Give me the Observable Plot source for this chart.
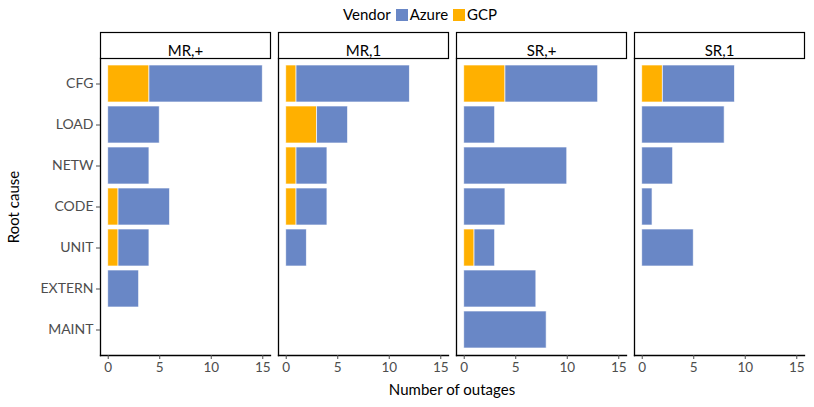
<!DOCTYPE html>
<html>
<head>
<meta charset="utf-8">
<script src="https://cdn.jsdelivr.net/npm/d3@7"></script>
<script src="https://cdn.jsdelivr.net/npm/@observablehq/plot@0.6"></script>
<style>
  html, body { margin: 0; padding: 0; background: #fff; }
  #wrap { position: relative; width: 814px; height: 407px; font-family: Lato, "DejaVu Sans", sans-serif; }
  #legend { position: absolute; left: 343px; top: 5px; font-size: 15px; color: #000; white-space: nowrap; }
  #legend span.sw { display: inline-block; width: 12px; height: 12px; vertical-align: -1px; margin: 0 2px 0 5px; }
  #chart { position: absolute; left: 0; top: 28px; }
  #xtitle { position: absolute; left: 99px; width: 706px; top: 380px; text-align: center; font-size: 15px; }
  #ytitle { position: absolute; left: 13px; top: 207px; transform: translate(-50%, -50%) rotate(-90deg); font-size: 15px; white-space: nowrap; }
</style>
</head>
<body>
<div id="wrap">
  <div id="legend"></div>
  <div id="chart"></div>
  <div id="xtitle">Number of outages</div>
  <div id="ytitle">Root cause</div>
</div>
<script>
const categories = ["CFG", "LOAD", "NETW", "CODE", "UNIT", "EXTERN", "MAINT"];
const panels = ["MR,+", "MR,1", "SR,+", "SR,1"];
const vendors = ["Azure", "GCP"];
const vendorColors = ["#6987c6", "#ffb000"];
const xTicks = [0, 5, 10, 15];

// values per category (order as in categories)
const azureMRplus = [11, 5, 4, 5, 3, 3, 0];
const gcpMRplus   = [4, 0, 0, 1, 1, 0, 0];
const azureMR1    = [11, 3, 3, 3, 2, 0, 0];
const gcpMR1      = [1, 3, 1, 1, 0, 0, 0];
const azureSRplus = [9, 3, 10, 4, 2, 7, 8];
const gcpSRplus   = [4, 0, 0, 0, 1, 0, 0];
const azureSR1    = [7, 8, 3, 1, 5, 0, 0];
const gcpSR1      = [2, 0, 0, 0, 0, 0, 0];

const seriesByPanel = {
  "MR,+": {Azure: azureMRplus, GCP: gcpMRplus},
  "MR,1": {Azure: azureMR1, GCP: gcpMR1},
  "SR,+": {Azure: azureSRplus, GCP: gcpSRplus},
  "SR,1": {Azure: azureSR1, GCP: gcpSR1}
};

const rows = [];
for (const p of panels) {
  for (const v of ["GCP", "Azure"]) {
    seriesByPanel[p][v].forEach((n, i) => {
      if (n > 0) rows.push({panel: p, vendor: v, cause: categories[i], n});
    });
  }
}

// legend
const legend = document.getElementById("legend");
legend.innerHTML = "Vendor" + vendors.map((v, i) =>
  `<span class="sw" style="background:${vendorColors[i]}"></span>${v}`).join("");

const H = 379;
const mTop = 30, mBottom = 52;
const panelH = H - mTop - mBottom;

const chart = Plot.plot({
  width: 814,
  height: H,
  marginTop: mTop,
  marginBottom: mBottom,
  marginLeft: 99,
  marginRight: 9,
  style: {fontFamily: "Lato, 'DejaVu Sans', sans-serif", fontSize: "13.5px", background: "white"},
  fx: {domain: panels, axis: null, paddingInner: 0.045, paddingOuter: 0},
  x: {domain: [-0.75, 15.75], ticks: xTicks, label: null},
  y: {domain: categories, paddingInner: 0.1, paddingOuter: 0.15, label: null},
  color: {domain: vendors, range: vendorColors},
  marks: [
    Plot.barX(rows, Plot.stackX({
      fx: "panel", y: "cause", x: "n", fill: "vendor", z: "vendor",
      order: ["GCP", "Azure"],
      stroke: "white", strokeWidth: 0.8, strokeOpacity: 0.8
    })),
    Plot.frame({anchor: "left", stroke: "black", strokeWidth: 1.3}),
    Plot.frame({anchor: "bottom", stroke: "black", strokeWidth: 1.3}),
    Plot.frame({insetTop: -26, insetBottom: panelH, stroke: "black", strokeWidth: 1.2, fill: "white"}),
    Plot.text(panels, {fx: d => d, text: d => d, frameAnchor: "top", dy: -13, fontSize: 15, fill: "black"}),
    Plot.axisX({ticks: xTicks, tickSize: 4, tickPadding: 3, label: null, color: "#4d4d4d", fontSize: 13.5}),
    Plot.axisY({tickSize: 4, tickPadding: 3, label: null, color: "#4d4d4d", fontSize: 14})
  ]
});
document.getElementById("chart").appendChild(chart);
</script>
</body>
</html>
